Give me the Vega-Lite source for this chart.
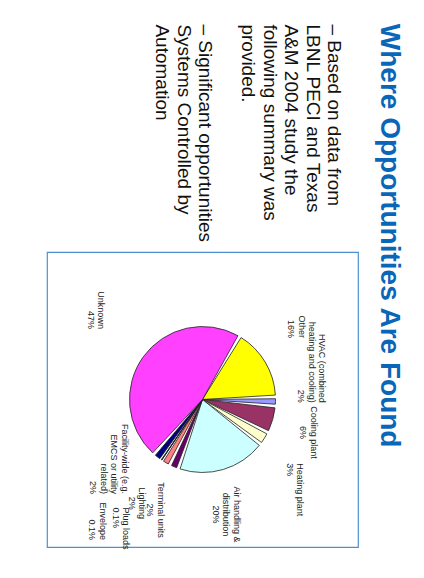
{
  "$schema": "https://vega.github.io/schema/vega-lite/v6.json",
  "background": "white",
  "padding": {"left": 46, "top": 23, "right": 5, "bottom": 5},
  "title": {
    "text": "Where Opportunities Are Found",
    "orient": "right",
    "anchor": "start",
    "font": "Liberation Sans",
    "fontSize": 28,
    "fontWeight": "bold",
    "color": "#0A66B8",
    "offset": 2
  },
  "config": {
    "font": "Liberation Sans",
    "view": {"stroke": "#4F8FD0", "strokeWidth": 1.2}
  },
  "vconcat": [
    {
      "title": {
        "text": ["– Based on data from", "\u00a0\u00a0\u00a0LBNL PECI and Texas", "\u00a0\u00a0\u00a0A&M 2004 study the", "\u00a0\u00a0\u00a0following summary was", "\u00a0\u00a0\u00a0provided.", "\u200b", "– Significant opportunities", "\u00a0\u00a0\u00a0Systems Controlled by", "\u00a0\u00a0\u00a0Automation"],
        "orient": "top",
        "anchor": "end",
        "frame": "group",
        "angle": 90,
        "align": "left",
        "baseline": "top",
        "dy": 15,
        "font": "Liberation Sans",
        "fontSize": 19,
        "fontWeight": "normal",
        "lineHeight": 21.5,
        "color": "#111111",
        "offset": 10
      },
      "width": 311,
      "height": 295,
      "view": {"stroke": "#4F8FD0", "strokeWidth": 1.2},
      "data": {
        "values": [
          {"i": 1, "cat": "Other", "value": 16, "label": "Other\n16%"},
          {"i": 2, "cat": "HVAC", "value": 2, "label": "HVAC (combined\nheating and cooling)\n2%"},
          {"i": 3, "cat": "Cooling plant", "value": 6, "label": "Cooling plant\n6%"},
          {"i": 4, "cat": "Heating plant", "value": 3, "label": "Heating plant\n3%"},
          {"i": 5, "cat": "Air handling & distribution", "value": 20, "label": "Air handling &\ndistribution\n20%"},
          {"i": 6, "cat": "Terminal units", "value": 2, "label": "Terminal units\n2%"},
          {"i": 7, "cat": "Lighting", "value": 2, "label": "Lighting\n2%"},
          {"i": 8, "cat": "Plug loads", "value": 0.1, "label": "Plug loads\n0.1%"},
          {"i": 9, "cat": "Envelope", "value": 0.1, "label": "Envelope\n0.1%"},
          {"i": 10, "cat": "Facility-wide", "value": 2, "label": "Facility-wide (e.g.\nEMCS or utility\nrelated)\n2%"},
          {"i": 11, "cat": "Unknown", "value": 47, "label": "Unknown\n47%"}
        ]
      },
      "encoding": {
        "theta": {"field": "value", "type": "quantitative", "stack": true, "scale": {"range": [0.532, 6.815]}},
        "order": {"field": "i", "type": "quantitative"}
      },
      "layer": [
        {
          "mark": {"type": "arc", "outerRadius": 73, "padAngle": 0.05, "stroke": "#222222", "strokeWidth": 0.8},
          "encoding": {
            "color": {
              "field": "cat",
              "type": "nominal",
              "legend": null,
              "scale": {
                "domain": ["Other", "HVAC", "Cooling plant", "Heating plant", "Air handling & distribution", "Terminal units", "Lighting", "Plug loads", "Envelope", "Facility-wide", "Unknown"],
                "range": ["#FFFF00", "#9999FF", "#993366", "#FFFFCC", "#CCFFFF", "#660066", "#FF8080", "#0066CC", "#CCCCFF", "#000080", "#FF40FF"]
              }
            }
          }
        },
        {
          "mark": {"type": "text", "radius": 120, "angle": 90, "fontSize": 9, "lineBreak": "\n", "align": "right", "baseline": "top", "color": "#222222", "font": "Liberation Sans", "lineHeight": 10.5},
          "encoding": {"text": {"condition": {"test": "indexof(['Other','Facility-wide','Unknown'], datum.cat) >= 0", "field": "label"}, "value": ""}}
        },
        {
          "mark": {"type": "text", "radius": 120, "angle": 90, "fontSize": 9, "lineBreak": "\n", "align": "right", "baseline": "middle", "color": "#222222", "font": "Liberation Sans", "lineHeight": 10.5},
          "encoding": {"text": {"condition": {"test": "datum.cat === 'HVAC'", "field": "label"}, "value": ""}}
        },
        {
          "mark": {"type": "text", "radius": 120, "angle": 90, "fontSize": 9, "lineBreak": "\n", "align": "center", "baseline": "top", "color": "#222222", "font": "Liberation Sans", "lineHeight": 10.5},
          "encoding": {"text": {"condition": {"test": "datum.cat === 'Cooling plant'", "field": "label"}, "value": ""}}
        },
        {
          "mark": {"type": "text", "radius": 120, "angle": 90, "fontSize": 9, "lineBreak": "\n", "align": "left", "baseline": "top", "color": "#222222", "font": "Liberation Sans", "lineHeight": 10.5},
          "encoding": {"text": {"condition": {"test": "datum.cat === 'Heating plant'", "field": "label"}, "value": ""}}
        },
        {
          "mark": {"type": "text", "radius": 120, "angle": 90, "fontSize": 9, "lineBreak": "\n", "align": "center", "baseline": "middle", "color": "#222222", "font": "Liberation Sans", "lineHeight": 10.5},
          "encoding": {"text": {"condition": {"test": "indexof(['Air handling & distribution','Lighting'], datum.cat) >= 0", "field": "label"}, "value": ""}}
        },
        {
          "mark": {"type": "text", "radius": 120, "angle": 90, "fontSize": 9, "lineBreak": "\n", "align": "center", "baseline": "bottom", "color": "#222222", "font": "Liberation Sans", "lineHeight": 10.5},
          "encoding": {"text": {"condition": {"test": "datum.cat === 'Terminal units'", "field": "label"}, "value": ""}}
        },
        {
          "mark": {"type": "text", "radius": 130, "angle": 90, "fontSize": 9, "lineBreak": "\n", "align": "left", "baseline": "top", "color": "#222222", "font": "Liberation Sans", "lineHeight": 10.5},
          "encoding": {"text": {"condition": {"test": "datum.cat === 'Plug loads'", "field": "label"}, "value": ""}}
        },
        {
          "mark": {"type": "text", "radius": 170, "angle": 90, "fontSize": 9, "lineBreak": "\n", "align": "right", "baseline": "top", "color": "#222222", "font": "Liberation Sans", "lineHeight": 10.5},
          "encoding": {"text": {"condition": {"test": "datum.cat === 'Envelope'", "field": "label"}, "value": ""}}
        }
      ]
    }
  ]
}
